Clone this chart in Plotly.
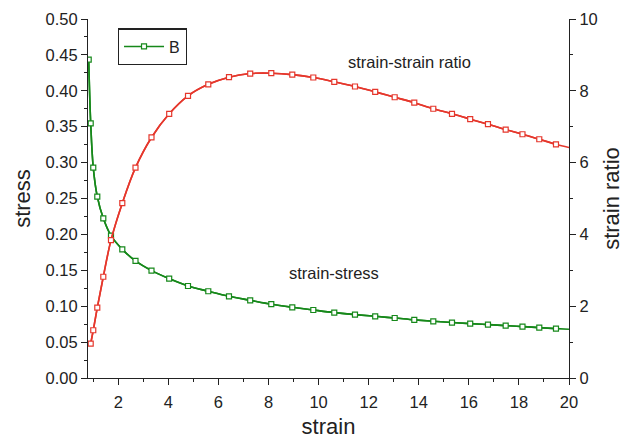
import plotly.graph_objects as go

# marker sample positions (strain)
strain_pts = [0.818, 0.898, 1.0, 1.161, 1.401, 1.708, 2.16, 2.687, 3.326, 4.033, 4.784,
              5.594, 6.421, 7.268, 8.11, 8.949, 9.788, 10.626, 11.453, 12.26, 13.038,
              13.821, 14.58, 15.327, 16.054, 16.764, 17.471, 18.142, 18.813, 19.48]
stress_vals = [0.4434, 0.3547, 0.293, 0.2526, 0.2224, 0.1983, 0.1792, 0.163, 0.1496, 0.1384,
               0.1281, 0.1208, 0.1138, 0.1082, 0.1028, 0.0985, 0.0947, 0.0911, 0.0883, 0.0859,
               0.0836, 0.081, 0.079, 0.0772, 0.0758, 0.0744, 0.073, 0.0716, 0.0702, 0.0688]
ratio_strain = strain_pts[1:]
ratio_vals = [0.96, 1.33, 1.96, 2.82, 3.84, 4.87, 5.86, 6.70, 7.36, 7.86, 8.18, 8.38, 8.48,
              8.49, 8.45, 8.37, 8.25, 8.12, 7.97, 7.82, 7.67, 7.50, 7.36, 7.21, 7.07, 6.92,
              6.79, 6.65, 6.51]
end_strain = 20.0
end_stress = 0.0678
end_ratio = 6.42

GREEN = "#16881a"
RED = "#e5372c"
FONT = "Liberation Sans, Arial, sans-serif"

fig = go.Figure()
fig.add_trace(go.Scatter(x=strain_pts + [end_strain], y=stress_vals + [end_stress],
                         mode="lines", line=dict(color=GREEN, width=1.6, shape="spline"),
                         showlegend=False, hoverinfo="skip"))
fig.add_trace(go.Scatter(x=ratio_strain + [end_strain], y=ratio_vals + [end_ratio],
                         mode="lines", line=dict(color=RED, width=1.6, shape="spline"),
                         showlegend=False, hoverinfo="skip", yaxis="y2"))
fig.add_trace(go.Scatter(x=strain_pts, y=stress_vals, mode="lines+markers", name="B",
                         line=dict(color=GREEN, width=1.6, shape="spline"),
                         marker=dict(symbol="square", size=5, color="white",
                                     line=dict(color=GREEN, width=1.2))))
fig.add_trace(go.Scatter(x=ratio_strain, y=ratio_vals, mode="lines+markers", name="ratio",
                         line=dict(color=RED, width=1.6, shape="spline"),
                         marker=dict(symbol="square", size=5, color="white",
                                     line=dict(color=RED, width=1.2)),
                         showlegend=False, yaxis="y2"))

axis_common = dict(showgrid=False, zeroline=False, showline=True, linecolor="#222",
                   linewidth=1.2, ticks="outside", ticklen=6, tickcolor="#222",
                   automargin=False,
                   tickfont=dict(size=16.5, color="#222", family=FONT))

fig.update_layout(
    width=624, height=439,
    margin=dict(l=88, r=55, t=19, b=61),
    paper_bgcolor="white", plot_bgcolor="white",
    font=dict(family=FONT, color="#222"),
    xaxis=dict(range=[0.79, 20], tickmode="linear", tick0=0, dtick=2, ticklabelstandoff=3,
               minor=dict(tickmode="linear", tick0=1, dtick=2, ticklen=3, ticks="outside",
                          tickcolor="#222"),
               title=dict(text="strain", font=dict(size=22, family=FONT), standoff=12),
               **axis_common),
    yaxis=dict(range=[0, 0.5], tickmode="linear", tick0=0, dtick=0.05, tickformat=".2f",
               minor=dict(tickmode="linear", tick0=0, dtick=0.025, ticklen=3, ticks="outside",
                          tickcolor="#222"),
               title=dict(text="stress", font=dict(size=22, family=FONT), standoff=8),
               **axis_common),
    yaxis2=dict(range=[0, 10], overlaying="y", side="right", tickmode="linear", tick0=0, dtick=2,
                minor=dict(tickmode="linear", tick0=1, dtick=2, ticklen=3, ticks="outside",
                           tickcolor="#222"),
                title=dict(text="strain ratio", font=dict(size=22, family=FONT), standoff=10),
                **axis_common),
    legend=dict(x=0.062, y=0.974, xanchor="left", yanchor="top", bordercolor="#222",
                borderwidth=1.2, bgcolor="white", font=dict(size=16, family=FONT),
                tracegroupgap=0, itemwidth=40),
    annotations=[
        dict(x=13.61, y=8.79, xref="x", yref="y2", text="strain-strain ratio", showarrow=False,
             font=dict(size=16.5, family=FONT, color="#222")),
        dict(x=10.61, y=0.1458, xref="x", yref="y", text="strain-stress", showarrow=False,
             font=dict(size=16.5, family=FONT, color="#222")),
    ],
)

fig.write_html("out.html")
